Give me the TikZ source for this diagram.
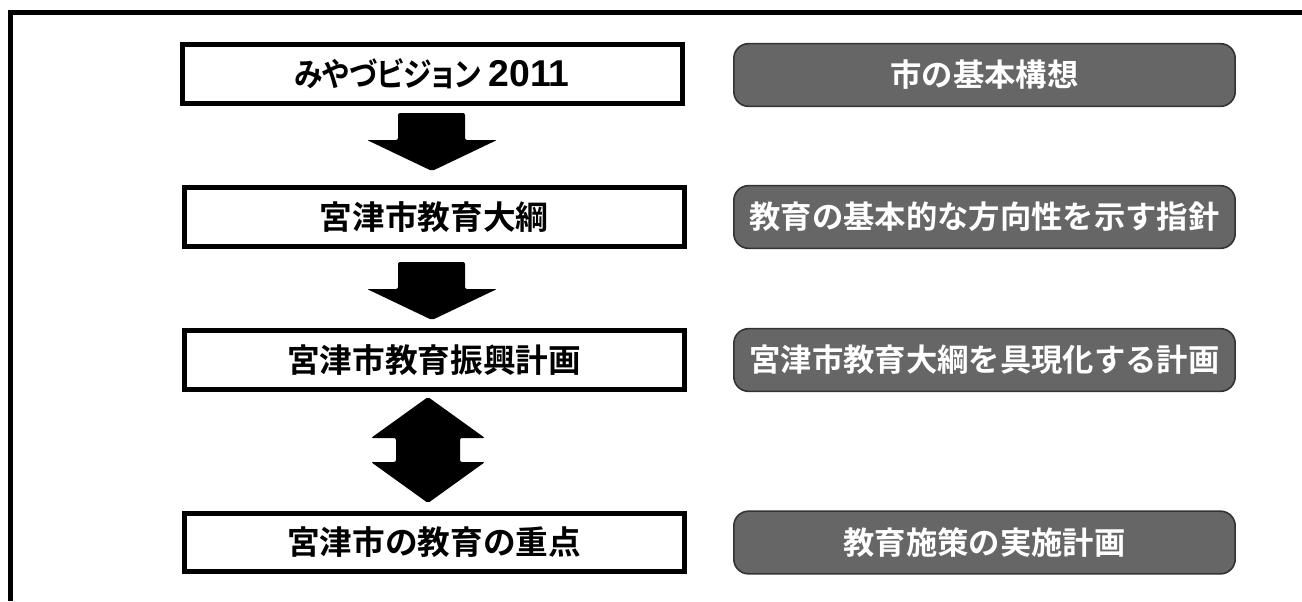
\documentclass[tikz,border=0pt]{standalone}
\usepackage{graphicx}
\usepackage{fontspec}
\setmainfont{Noto Sans CJK JP}[BoldFont={* Bold}]
\newfontfamily\kanafont{Noto Sans CJK JP}[BoldFont={* Bold},RawFeature=+palt]
\newfontfamily\digitfont{Liberation Sans}
\usepackage{tikz}

\tikzset{
  planbox/.style={draw=black,line width=3.75pt,fill=white,minimum width=375pt,
    minimum height=44pt,font=\fontsize{24.5pt}{24.5pt}\selectfont\bfseries},
  notebox/.style={draw=black!80,line width=1.2pt,fill=black!60,rounded corners=11pt,
    minimum width=376pt,minimum height=47pt,text=white,
    font=\fontsize{23.5pt}{23.5pt}\selectfont\bfseries},
  bigarr/.style={fill=black,rounded corners=1.5pt}
}

% block arrow pointing down: centre x, top y
\newcommand{\downarr}[2]{%
  \fill[bigarr] (#1-34,#2) -- (#1+33,#2) -- (#1+33,#2+27) -- (#1+65,#2+27)
    -- (#1,#2+58) -- (#1-65,#2+27) -- (#1-34,#2+27) -- cycle;}

\begin{document}
\begin{tikzpicture}[x=0.75pt,y=-0.75pt]
  \useasboundingbox (0,0) rectangle (1302,601);
  \draw[line width=3.75pt] (10,601) -- (10,12.5) -- (1302,12.5);

  \node[planbox] (vision) at (432,74)
    {\scalebox{0.88}[1]{\kanafont\bfseries みやづビジョン} {\digitfont\bfseries\fontsize{28pt}{28pt}\selectfont 2011}};
  \node[planbox] (taiko) at (434,217) {宮津市教育大綱};
  \node[planbox] (shinko) at (434,360) {宮津市教育振興計画};
  \node[planbox] (juten) at (434,542.5) {宮津市の教育の重点};

  \node[notebox] (n1) at (984.5,75) {市の基本構想};
  \node[notebox] (n2) at (984.5,217) {教育の基本的な方向性を示す指針};
  \node[notebox] (n3) at (984.5,360) {宮津市教育大綱を具現化する計画};
  \node[notebox] (n4) at (984.5,542.5) {教育施策の実施計画};

  \downarr{432}{113}
  \downarr{432}{262}
  \fill[bigarr] (428,397) -- (485,438) -- (460,438) -- (460,462) -- (485,462)
    -- (428,503) -- (371,462) -- (396,462) -- (396,438) -- (371,438) -- cycle;
\end{tikzpicture}
\end{document}
